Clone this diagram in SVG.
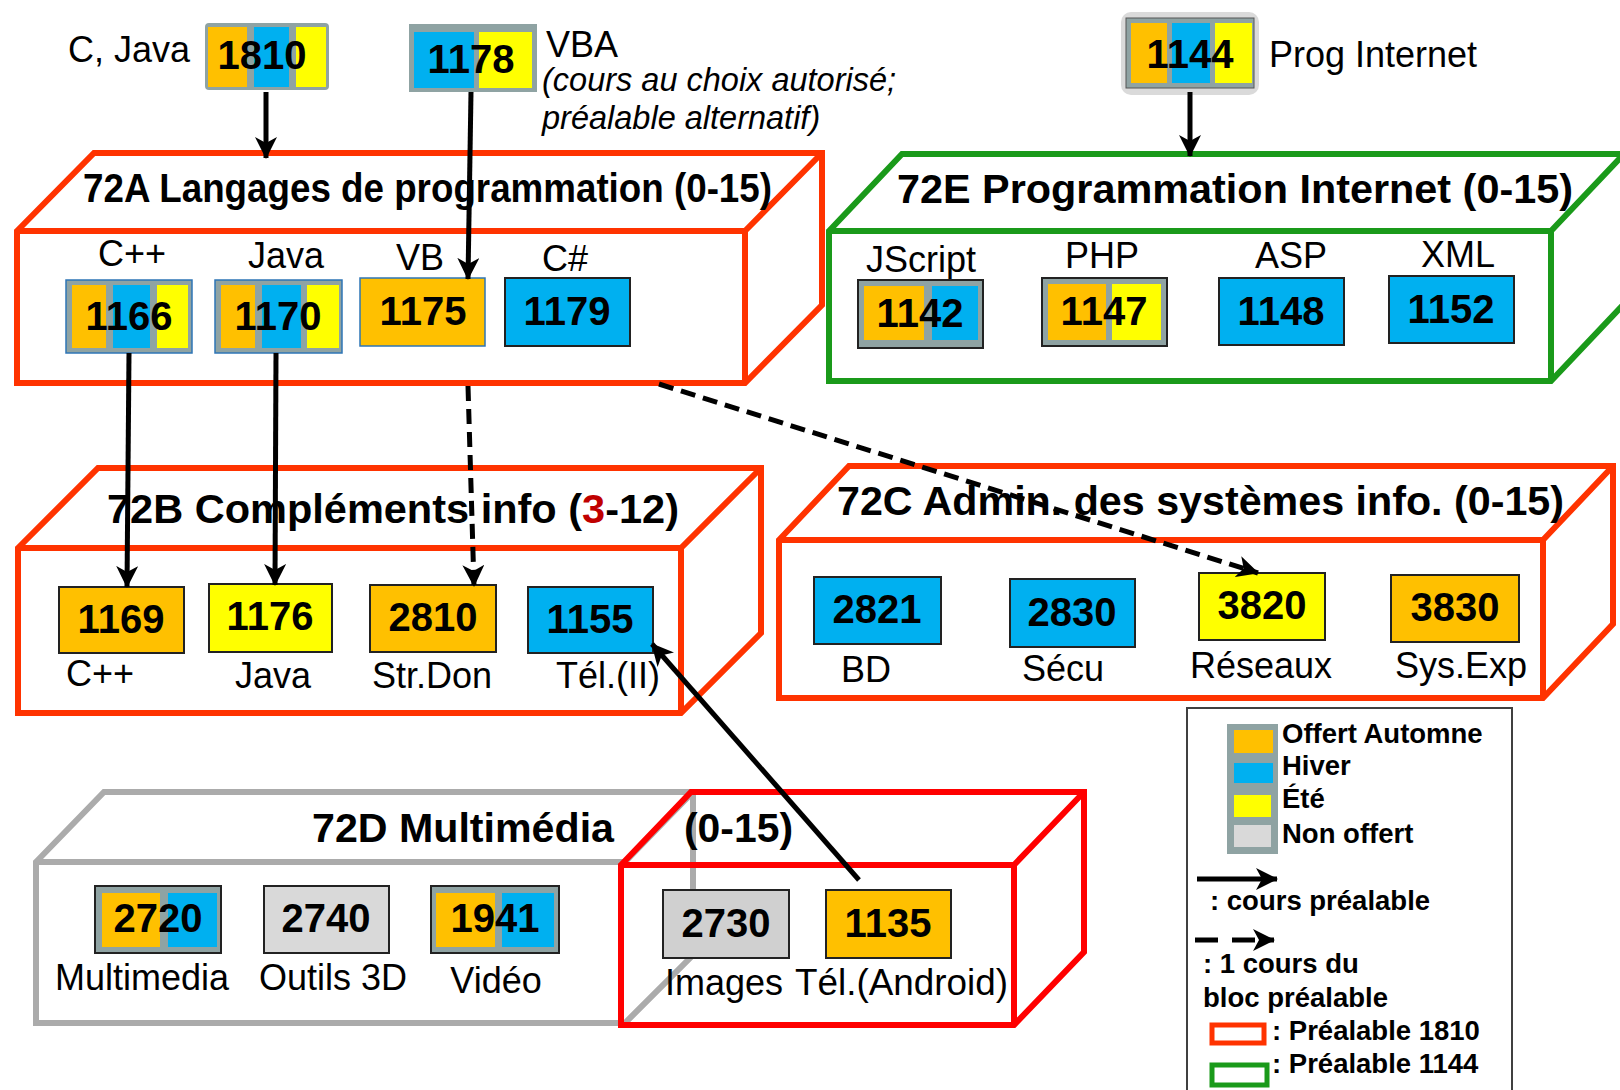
<svg xmlns="http://www.w3.org/2000/svg" width="1620" height="1090" viewBox="0 0 1620 1090">
<style>
text{font-family:"Liberation Sans",Arial,sans-serif;fill:#000}
.num{font-weight:bold;font-size:40px;text-anchor:middle}
.lbl{font-size:36px;text-anchor:middle}
.lbs{font-size:36px}
.it{font-size:32.5px;font-style:italic}
.ttl{font-weight:bold;font-size:40px}
.leg{font-weight:bold;font-size:27.5px}
.blk{fill:none;stroke-width:6;stroke-linejoin:miter}
.ro{stroke:#FF3300}.gr{stroke:#1A9A1A}.gy{stroke:#ABABAB}.rd{stroke:#FF0000}
.o{fill:#FFC000}.b{fill:#00B0F0}.y{fill:#FFFF00}.g{fill:#8FA3A3}.n{fill:#D9D9D9}
.bx{stroke:#222;stroke-width:2}
.bl{stroke:#2E75B6;stroke-width:1.5}
.con{fill:none;stroke:#000;stroke-width:5}
.dash{stroke-dasharray:15 8}
</style>
<defs>
<marker id="ah" markerUnits="userSpaceOnUse" markerWidth="22" markerHeight="22" viewBox="0 0 22 22" refX="21" refY="11" orient="auto">
<path d="M0,0 L22,11 L0,22 L6,11 Z" fill="#000"/>
</marker>
</defs>

<!-- top prerequisite courses -->
<g id="c1810">
<text class="lbs" x="68" y="62">C, Java</text>
<rect x="205" y="23" width="124" height="67" rx="4" class="g"/>
<rect x="208" y="27" width="39" height="60" class="o"/>
<rect x="254" y="27" width="35" height="60" class="b"/>
<rect x="296" y="27" width="30" height="60" class="y"/>
<text class="num" x="262" y="69">1810</text>
</g>
<g id="c1178">
<rect x="409" y="24" width="128" height="68" class="g"/>
<rect x="414" y="32" width="60" height="56" class="b"/>
<rect x="479" y="32" width="53" height="56" class="y"/>
<text class="num" x="471" y="73">1178</text>
<text class="lbs" x="546" y="57">VBA</text>
<text class="it" x="542" y="91">(cours au choix autorisé;</text>
<text class="it" x="542" y="129">préalable alternatif)</text>
</g>
<g id="c1144">
<rect x="1121" y="12" width="138" height="83" rx="10" fill="#DADADA"/>
<rect x="1126" y="18" width="128" height="70" class="g" stroke="#555" stroke-width="1"/>
<rect x="1131" y="23" width="36" height="60" class="o"/>
<rect x="1172" y="23" width="38" height="60" class="b"/>
<rect x="1215" y="23" width="37" height="60" class="y"/>
<text class="num" x="1190" y="68">1144</text>
<text class="lbs" x="1269" y="67">Prog Internet</text>
</g>

<!-- 72A -->
<g id="b72A">
<path class="blk ro" d="M17,231 L94,153 L822,153 L822,305 L745,383 L17,383 Z M17,231 L745,231 L745,383 M745,231 L822,153"/>
<text class="ttl" x="83" y="202" textLength="689" lengthAdjust="spacingAndGlyphs">72A Langages de programmation (0-15)</text>
<text class="lbl" x="132" y="266">C++</text>
<text class="lbl" x="286" y="268">Java</text>
<text class="lbl" x="420" y="270">VB</text>
<text class="lbl" x="565" y="271">C#</text>
<g id="c1166">
<rect x="66" y="280" width="126" height="73" class="g bl"/>
<rect x="72" y="285" width="34" height="63" class="o"/>
<rect x="113" y="285" width="37" height="63" class="b"/>
<rect x="157" y="285" width="31" height="63" class="y"/>
<text class="num" x="129" y="330">1166</text>
</g>
<g id="c1170">
<rect x="215" y="280" width="127" height="73" class="g bl"/>
<rect x="221" y="285" width="34" height="63" class="o"/>
<rect x="262" y="285" width="39" height="63" class="b"/>
<rect x="307" y="285" width="32" height="63" class="y"/>
<text class="num" x="278" y="330">1170</text>
</g>
<g id="c1175"><rect x="360" y="278" width="125" height="68" class="o bl"/><text class="num" x="423" y="325">1175</text></g>
<g id="c1179"><rect x="505" y="278" width="125" height="68" class="b bx"/><text class="num" x="567" y="325">1179</text></g>
</g>

<!-- 72E -->
<g id="b72E">
<path class="blk gr" d="M829,231 L902,154 L1624,154 L1624,304 L1551,381 L829,381 Z M829,231 L1551,231 L1551,381 M1551,231 L1624,154"/>
<text class="ttl" x="897" y="203" textLength="676" lengthAdjust="spacingAndGlyphs">72E Programmation Internet (0-15)</text>
<text class="lbl" x="921" y="272">JScript</text>
<text class="lbl" x="1102" y="268">PHP</text>
<text class="lbl" x="1291" y="268">ASP</text>
<text class="lbl" x="1458" y="267">XML</text>
<g id="c1142">
<rect x="858" y="280" width="125" height="68" class="g bx"/>
<rect x="864" y="286" width="60" height="54" class="o"/>
<rect x="932" y="286" width="46" height="54" class="b"/>
<text class="num" x="920" y="327">1142</text>
</g>
<g id="c1147">
<rect x="1042" y="278" width="125" height="68" class="g bx"/>
<rect x="1048" y="284" width="58" height="56" class="o"/>
<rect x="1112" y="284" width="49" height="56" class="y"/>
<text class="num" x="1104" y="325">1147</text>
</g>
<g id="c1148"><rect x="1219" y="278" width="125" height="67" class="b bx"/><text class="num" x="1281" y="325">1148</text></g>
<g id="c1152"><rect x="1389" y="276" width="125" height="67" class="b bx"/><text class="num" x="1451" y="323">1152</text></g>
</g>

<!-- 72B -->
<g id="b72B">
<path class="blk ro" d="M18,548 L98,468 L761,468 L761,633 L681,713 L18,713 Z M18,548 L681,548 L681,713 M681,548 L761,468"/>
<text class="ttl" x="107" y="523" textLength="572" lengthAdjust="spacingAndGlyphs">72B Compléments info (<tspan fill="#C00000">3</tspan>-12)</text>
<g id="c1169"><rect x="59" y="587" width="125" height="66" class="o bx"/><text class="num" x="121" y="633">1169</text></g>
<g id="c1176"><rect x="209" y="584" width="123" height="68" class="y bx"/><text class="num" x="270" y="630">1176</text></g>
<g id="c2810"><rect x="370" y="585" width="126" height="67" class="o bx"/><text class="num" x="433" y="631">2810</text></g>
<g id="c1155"><rect x="528" y="587" width="125" height="66" class="b bx"/><text class="num" x="590" y="633">1155</text></g>
<text class="lbs" x="66" y="686">C++</text>
<text class="lbl" x="273" y="688">Java</text>
<text class="lbl" x="432" y="688">Str.Don</text>
<text class="lbl" x="608" y="688">Tél.(II)</text>
</g>

<!-- 72C -->
<g id="b72C">
<path class="blk ro" d="M779,540 L849,466 L1613,466 L1613,624 L1543,698 L779,698 Z M779,540 L1543,540 L1543,698 M1543,540 L1613,466"/>
<text class="ttl" x="837" y="515" textLength="727" lengthAdjust="spacingAndGlyphs">72C Admin. des systèmes info. (0-15)</text>
<g id="c2821"><rect x="814" y="577" width="127" height="67" class="b bx"/><text class="num" x="877" y="623">2821</text></g>
<g id="c2830"><rect x="1010" y="579" width="125" height="68" class="b bx"/><text class="num" x="1072" y="626">2830</text></g>
<g id="c3820"><rect x="1199" y="573" width="126" height="67" class="y bx"/><text class="num" x="1262" y="619">3820</text></g>
<g id="c3830"><rect x="1391" y="575" width="128" height="67" class="o bx"/><text class="num" x="1455" y="621">3830</text></g>
<text class="lbl" x="866" y="682">BD</text>
<text class="lbl" x="1063" y="681">Sécu</text>
<text class="lbl" x="1261" y="678">Réseaux</text>
<text class="lbl" x="1461" y="678">Sys.Exp</text>
</g>

<!-- 72D -->
<g id="b72D">
<path class="blk gy" d="M36,862 L104,792 L693,792 L693,955 L625,1023 L36,1023 Z M36,862 L625,862 M625,862 L693,792"/>
<path class="blk rd" d="M621,865 L691,792 L1084,792 L1084,952 L1014,1025 L621,1025 Z M621,865 L1014,865 L1014,1025 M1014,865 L1084,792"/>
<text class="ttl" x="312" y="842" textLength="302" lengthAdjust="spacingAndGlyphs">72D Multimédia</text>
<text class="ttl" x="684" y="842" textLength="109" lengthAdjust="spacingAndGlyphs">(0-15)</text>
<g id="c2720">
<rect x="95" y="886" width="126" height="67" class="g bx"/>
<rect x="102" y="893" width="58" height="54" class="o"/>
<rect x="168" y="893" width="49" height="54" class="b"/>
<text class="num" x="158" y="932">2720</text>
</g>
<g id="c2740"><rect x="264" y="886" width="125" height="67" class="n bx"/><text class="num" x="326" y="932">2740</text></g>
<g id="c1941">
<rect x="431" y="886" width="128" height="67" class="g bx"/>
<rect x="436" y="893" width="59" height="54" class="o"/>
<rect x="502" y="893" width="52" height="54" class="b"/>
<text class="num" x="495" y="932">1941</text>
</g>
<g id="c2730"><rect x="663" y="890" width="126" height="68" fill="#D0D0D0" class="bx"/><text class="num" x="726" y="937">2730</text></g>
<g id="c1135"><rect x="826" y="890" width="125" height="68" class="o bx"/><text class="num" x="888" y="937">1135</text></g>
<text class="lbl" x="142" y="990">Multimedia</text>
<text class="lbl" x="333" y="990">Outils 3D</text>
<text class="lbl" x="496" y="993">Vidéo</text>
<text class="lbs" x="665" y="995">Images</text>
<text class="lbs" x="795" y="995" textLength="213" lengthAdjust="spacingAndGlyphs">Tél.(Android)</text>
</g>

<!-- connectors -->
<g id="connectors">
<path class="con" d="M266,92 L266,158" marker-end="url(#ah)"/>
<path class="con" d="M471,92 L468,279" marker-end="url(#ah)"/>
<path class="con" d="M1190,92 L1190,156" marker-end="url(#ah)"/>
<path class="con" d="M129,353 L127,587" marker-end="url(#ah)"/>
<path class="con" d="M276,353 L275,585" marker-end="url(#ah)"/>
<path class="con dash" d="M468,386 L474,586" marker-end="url(#ah)"/>
<path class="con dash" d="M659,384 L1258,573" marker-end="url(#ah)"/>
<path class="con" d="M859,880 L652,644" marker-end="url(#ah)"/>
</g>

<!-- legend -->
<g id="legend">
<rect x="1187" y="708" width="325" height="390" fill="#fff" stroke="#404040" stroke-width="2"/>
<rect x="1227" y="724" width="51" height="130" class="g"/>
<rect x="1234" y="730" width="39" height="23" class="o"/>
<rect x="1234" y="763" width="39" height="20" class="b"/>
<rect x="1234" y="795" width="37" height="22" class="y"/>
<rect x="1234" y="825" width="37" height="22" class="n"/>
<text class="leg" x="1282" y="743">Offert Automne</text>
<text class="leg" x="1282" y="775">Hiver</text>
<text class="leg" x="1282" y="808">Été</text>
<text class="leg" x="1282" y="843">Non offert</text>
<path class="con" stroke-width="6" d="M1197,879 L1277,879" marker-end="url(#ah)"/>
<text class="leg" x="1210" y="910">: cours préalable</text>
<path class="con" stroke-width="6" stroke-dasharray="23 14" d="M1195,940 L1274,940" marker-end="url(#ah)"/>
<text class="leg" x="1203" y="973">: 1 cours du</text>
<text class="leg" x="1203" y="1007">bloc préalable</text>
<rect x="1212" y="1025" width="52" height="18" fill="#fff" stroke="#FF3300" stroke-width="5"/>
<text class="leg" x="1272" y="1040">: Préalable 1810</text>
<rect x="1212" y="1065" width="55" height="20" fill="#fff" stroke="#1A9A1A" stroke-width="5"/>
<text class="leg" x="1272" y="1073">: Préalable 1144</text>
</g>
</svg>
